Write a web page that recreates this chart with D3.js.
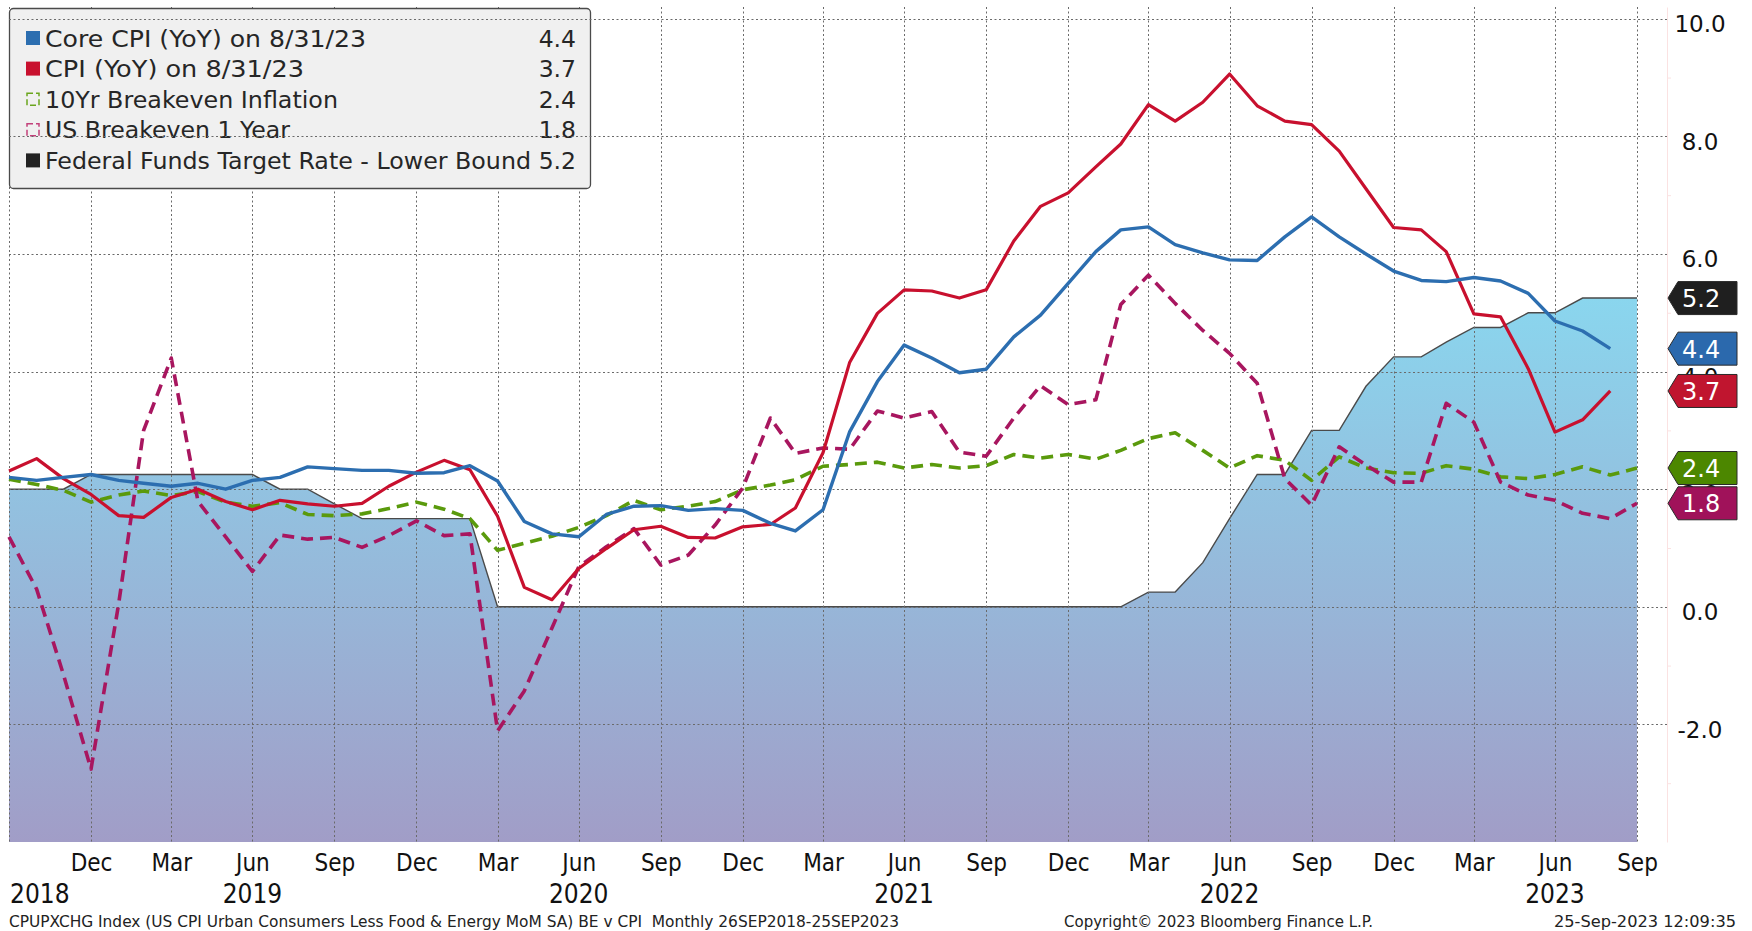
<!DOCTYPE html>
<html>
<head>
<meta charset="utf-8">
<script src="https://cdnjs.cloudflare.com/ajax/libs/d3/7.8.5/d3.min.js"></script>
<style>
body { margin: 0; background: #fff; }
svg { display: block; }
</style>
</head>
<body>
<svg id="chart" width="1752" height="931"></svg>
<script>
var svg = d3.select('#chart');
var condFont = "'DejaVu Sans Condensed', 'DejaVu Sans', sans-serif";
var sansFont = "'DejaVu Sans', Verdana, sans-serif";

// monthly values, month ends Sep 2018 .. Aug 2023 (CPI) / Sep 2023 (market + fed)
var coreCpi = [2.2, 2.15, 2.2, 2.25, 2.15, 2.1, 2.05, 2.1, 2.0, 2.15, 2.2, 2.38,
    2.35, 2.32, 2.32, 2.27, 2.28, 2.4, 2.14, 1.45, 1.24, 1.19, 1.57, 1.71,
    1.72, 1.64, 1.67, 1.64, 1.42, 1.29, 1.65, 2.98, 3.83, 4.45, 4.23, 3.98,
    4.04, 4.59, 4.96, 5.5, 6.04, 6.41, 6.46, 6.16, 6.02, 5.9, 5.89, 6.29,
    6.63, 6.29, 6.0, 5.71, 5.55, 5.53, 5.6, 5.54, 5.33, 4.86, 4.69, 4.39];
var cpi = [2.31, 2.52, 2.18, 1.91, 1.55, 1.52, 1.86, 2.0, 1.79, 1.65, 1.81, 1.75,
    1.71, 1.76, 2.05, 2.29, 2.49, 2.33, 1.54, 0.33, 0.12, 0.65, 0.99, 1.31,
    1.37, 1.18, 1.17, 1.36, 1.4, 1.68, 2.62, 4.16, 4.99, 5.39, 5.37, 5.25,
    5.39, 6.22, 6.81, 7.04, 7.48, 7.87, 8.54, 8.26, 8.58, 9.06, 8.52, 8.26,
    8.2, 7.75, 7.11, 6.45, 6.41, 6.04, 4.98, 4.93, 4.05, 2.97, 3.18, 3.67];
var breakeven10y = [2.17, 2.08, 1.98, 1.78, 1.9, 1.97, 1.89, 1.96, 1.78, 1.71, 1.77, 1.57,
    1.55, 1.58, 1.67, 1.78, 1.66, 1.5, 0.96, 1.08, 1.2, 1.35, 1.55, 1.81,
    1.65, 1.71, 1.79, 1.99, 2.07, 2.16, 2.39, 2.42, 2.46, 2.36, 2.42, 2.36,
    2.4, 2.59, 2.53, 2.59, 2.51, 2.66, 2.86, 2.96, 2.66, 2.36, 2.57, 2.49,
    2.15, 2.55, 2.36, 2.28, 2.27, 2.4, 2.34, 2.21, 2.18, 2.25, 2.38, 2.24, 2.36];
var breakeven1y = [1.19, 0.3, -1.15, -2.76, 0.05, 3.0, 4.23, 1.79, 1.19, 0.6, 1.22, 1.15,
    1.18, 1.01, 1.21, 1.46, 1.21, 1.24, -2.11, -1.43, -0.36, 0.68, 1.02, 1.33,
    0.71, 0.88, 1.39, 2.02, 3.21, 2.61, 2.7, 2.68, 3.33, 3.21, 3.32, 2.63,
    2.56, 3.21, 3.76, 3.44, 3.52, 5.14, 5.64, 5.16, 4.7, 4.31, 3.8, 2.18,
    1.73, 2.72, 2.41, 2.12, 2.12, 3.46, 3.14, 2.12, 1.9, 1.81, 1.59, 1.5, 1.76];
var fedFunds = [2, 2, 2, 2.25, 2.25, 2.25, 2.25, 2.25, 2.25, 2.25, 2, 2,
    1.75, 1.5, 1.5, 1.5, 1.5, 1.5, 0, 0, 0, 0, 0, 0,
    0, 0, 0, 0, 0, 0, 0, 0, 0, 0, 0, 0,
    0, 0, 0, 0, 0, 0, 0.25, 0.25, 0.75, 1.5, 2.25, 2.25,
    3, 3, 3.75, 4.25, 4.25, 4.5, 4.75, 4.75, 5, 5, 5.25, 5.25, 5.25];

var legendNames = ['Core CPI (YoY) on 8/31/23', 'CPI (YoY) on 8/31/23', '10Yr Breakeven Inflation',
    'US Breakeven 1 Year', 'Federal Funds Target Rate - Lower Bound'];
var legendValues = ['4.4', '3.7', '2.4', '1.8', '5.2'];
var yTicks = [-2, 0, 2, 4, 6, 8, 10];
var yearLabels = [2018, 2019, 2020, 2021, 2022, 2023];

// month-end dates
var dates = d3.timeMonth.range(new Date(2018, 9, 1), new Date(2023, 10, 1))
    .map(function(d) { return d3.timeDay.offset(d, -1); });
var quarterDates = d3.timeMonth.range(new Date(2018, 9, 1), new Date(2023, 10, 1), 3)
    .map(function(d) { return d3.timeDay.offset(d, -1); });

var x = d3.scaleTime().domain([dates[0], dates[dates.length - 1]]).range([9, 1637]);
var y = d3.scaleLinear().domain([-4, 10.2]).range([842, 7]);

var colors = {
    core: '#2c6eb0', cpi: '#c8102e', be10: '#5a9a0c', be1: '#a8165f', fed: '#222222'
};

// gradient for fed funds area
var defs = svg.append('defs');
var grad = defs.append('linearGradient')
    .attr('id', 'fedFill')
    .attr('gradientUnits', 'userSpaceOnUse')
    .attr('x1', 0).attr('x2', 0)
    .attr('y1', y(5.25)).attr('y2', y(-4));
grad.append('stop').attr('offset', '0%').attr('stop-color', '#8ad6ee');
grad.append('stop').attr('offset', '100%').attr('stop-color', '#a19dc7');

var area = d3.area()
    .x(function(d, i) { return x(dates[i]); })
    .y0(y(-4))
    .y1(function(d) { return y(d); });

svg.append('path')
    .datum(fedFunds)
    .attr('d', area)
    .attr('fill', 'url(#fedFill)');

svg.append('path')
    .datum(fedFunds)
    .attr('d', d3.line().x(function(d, i) { return x(dates[i]); }).y(function(d) { return y(d); }))
    .attr('fill', 'none')
    .attr('stroke', '#4a4a4a')
    .attr('stroke-width', 1.4);

// vertical grid
svg.append('g')
    .selectAll('line')
    .data(quarterDates)
    .enter()
    .append('line')
    .attr('x1', function(d) { return Math.round(x(d)) + 0.5; })
    .attr('x2', function(d) { return Math.round(x(d)) + 0.5; })
    .attr('y1', 7)
    .attr('y2', 842)
    .attr('stroke', '#6a6a6a')
    .attr('stroke-width', 1)
    .attr('stroke-dasharray', '2,2.5');

// legend box (under the horizontal grid)
var legend = svg.append('g');
legend.append('rect')
    .attr('x', 9.5).attr('y', 8.5)
    .attr('width', 581).attr('height', 180)
    .attr('rx', 4)
    .attr('fill', '#f0f0f0')
    .attr('stroke', '#4a4a4a')
    .attr('stroke-width', 1.3);

// horizontal grid
svg.append('g')
    .selectAll('line')
    .data(yTicks)
    .enter()
    .append('line')
    .attr('x1', 9)
    .attr('x2', 1667)
    .attr('y1', function(d) { return Math.round(y(d)) + 0.5; })
    .attr('y2', function(d) { return Math.round(y(d)) + 0.5; })
    .attr('stroke', '#6a6a6a')
    .attr('stroke-width', 1)
    .attr('stroke-dasharray', '2,2.5');

function lineFor(values) {
    return d3.line()
        .x(function(d, i) { return x(dates[i]); })
        .y(function(d) { return y(d); })(values);
}

var series = [
    { values: breakeven10y, color: colors.be10, width: 3.6, dash: '12,7' },
    { values: breakeven1y, color: colors.be1, width: 3.6, dash: '12,7' },
    { values: cpi, color: colors.cpi, width: 3.2, dash: null },
    { values: coreCpi, color: colors.core, width: 3.4, dash: null }
];

svg.append('g')
    .selectAll('path')
    .data(series)
    .enter()
    .append('path')
    .attr('d', function(d) { return lineFor(d.values); })
    .attr('fill', 'none')
    .attr('stroke', function(d) { return d.color; })
    .attr('stroke-width', function(d) { return d.width; })
    .attr('stroke-dasharray', function(d) { return d.dash; })
    .attr('stroke-linejoin', 'round');

// legend content
var legendColors = [colors.core, colors.cpi, '#6aa51d', '#c2407a', colors.fed];
var legendHollow = [false, false, true, true, false];
var legendWidths = [321, 259, 293, 245, 486]; // text widths
var rowY = function(i) { return 38 + i * 30.6; };

legend.selectAll('.mark')
    .data(legendNames)
    .enter()
    .append('rect')
    .attr('class', 'mark')
    .attr('x', function(d, i) { return legendHollow[i] ? 27 : 26; })
    .attr('y', function(d, i) { return rowY(i) - (legendHollow[i] ? 6 : 7); })
    .attr('width', function(d, i) { return legendHollow[i] ? 12 : 14; })
    .attr('height', function(d, i) { return legendHollow[i] ? 12 : 14; })
    .attr('fill', function(d, i) { return legendHollow[i] ? 'none' : legendColors[i]; })
    .attr('stroke', function(d, i) { return legendHollow[i] ? legendColors[i] : 'none'; })
    .attr('stroke-width', 1.5)
    .attr('stroke-dasharray', function(d, i) { return legendHollow[i] ? '6,3' : null; });

legend.selectAll('.name')
    .data(legendNames)
    .enter()
    .append('text')
    .attr('class', 'name')
    .attr('x', 45)
    .attr('y', function(d, i) { return rowY(i) + 8.5; })
    .attr('textLength', function(d, i) { return legendWidths[i]; })
    .attr('lengthAdjust', 'spacingAndGlyphs')
    .style('font-family', sansFont)
    .style('font-size', '23.5px')
    .style('fill', '#262626')
    .text(function(d) { return d; });

legend.selectAll('.val')
    .data(legendValues)
    .enter()
    .append('text')
    .attr('class', 'val')
    .attr('x', 576)
    .attr('y', function(d, i) { return rowY(i) + 8.5; })
    .style('font-family', sansFont)
    .style('font-size', '23.5px')
    .style('fill', '#262626')
    .style('text-anchor', 'end')
    .text(function(d) { return d; });

// right axis
var yAxis = d3.axisRight(y)
    .tickValues(yTicks)
    .tickSize(0)
    .tickSizeOuter(0)
    .tickFormat(function(d) { return d.toFixed(1); });

var yAxisG = svg.append('g')
    .attr('transform', 'translate(1667,0)')
    .call(yAxis);
yAxisG.select('.domain').attr('stroke', '#fbe2e2');
yAxisG.selectAll('text')
    .attr('x', 33)
    .attr('dy', '0.55em')
    .style('text-anchor', 'middle')
    .style('font-family', sansFont)
    .style('font-size', '23px')
    .style('fill', '#111');

var minorAxis = d3.axisRight(y)
    .tickValues([-3, -1, 1, 3, 5, 7, 9])
    .tickSize(4)
    .tickSizeOuter(0)
    .tickFormat('');
svg.append('g')
    .attr('transform', 'translate(1667,0)')
    .call(minorAxis)
    .call(function(g) { g.select('.domain').remove(); })
    .selectAll('line')
    .attr('stroke', '#fbe2e2');

// bottom axis
var xAxis = d3.axisBottom(x)
    .tickValues(quarterDates.slice(1))
    .tickSize(0)
    .tickFormat(d3.timeFormat('%b'));

var xAxisG = svg.append('g')
    .attr('transform', 'translate(0,842)')
    .call(xAxis);
xAxisG.select('.domain').remove();
xAxisG.selectAll('text')
    .attr('y', 29)
    .attr('dy', null)
    .style('font-family', condFont)
    .style('font-size', '24px')
    .style('fill', '#111');

svg.append('g')
    .selectAll('text')
    .data(yearLabels)
    .enter()
    .append('text')
    .attr('x', function(d) {
        var px = x(new Date(d, 5, 30));
        return px < 40 ? 10 : px;
    })
    .attr('y', 903)
    .style('text-anchor', function(d) { return x(new Date(d, 5, 30)) < 40 ? 'start' : 'middle'; })
    .style('font-family', condFont)
    .style('font-size', '26px')
    .style('fill', '#111')
    .text(function(d) { return d; });

// last value tags
var tags = [
    { v: fedFunds[fedFunds.length - 1], label: legendValues[4], color: '#1f1f1f' },
    { v: coreCpi[coreCpi.length - 1], label: legendValues[0], color: '#2b69ad' },
    { v: cpi[cpi.length - 1], label: legendValues[1], color: '#c0152f' },
    { v: breakeven10y[breakeven10y.length - 1], label: legendValues[2], color: '#4c8700' },
    { v: breakeven1y[breakeven1y.length - 1], label: legendValues[3], color: '#a0125a' }
];

var tagG = svg.append('g')
    .selectAll('g')
    .data(tags)
    .enter()
    .append('g')
    .attr('transform', function(d) { return 'translate(0,' + y(d.v) + ')'; });

tagG.append('path')
    .attr('d', 'M1668,0 L1678,-16.5 L1737,-16.5 L1737,16.5 L1678,16.5 Z')
    .attr('fill', function(d) { return d.color; })
    .attr('stroke', '#2a2a2a')
    .attr('stroke-width', 1);

tagG.append('text')
    .attr('x', 1682)
    .attr('y', 9)
    .style('font-family', sansFont)
    .style('font-size', '24px')
    .style('fill', '#fff')
    .text(function(d) { return d.label; });

// footer
var footer = [
    { text: 'CPUPXCHG Index (US CPI Urban Consumers Less Food & Energy MoM SA) BE v CPI  Monthly 26SEP2018-25SEP2023', x: 9, len: 890 },
    { text: 'Copyright\u00a9 2023 Bloomberg Finance L.P.', x: 1064, len: 309 },
    { text: '25-Sep-2023 12:09:35', x: 1554, len: 182 }
];
svg.append('g')
    .selectAll('text')
    .data(footer)
    .enter()
    .append('text')
    .attr('x', function(d) { return d.x; })
    .attr('y', 927)
    .attr('textLength', function(d) { return d.len; })
    .attr('lengthAdjust', 'spacingAndGlyphs')
    .style('font-family', condFont)
    .style('font-size', '15px')
    .style('fill', '#222')
    .style('white-space', 'pre')
    .text(function(d) { return d.text; });
</script>
</body>
</html>
